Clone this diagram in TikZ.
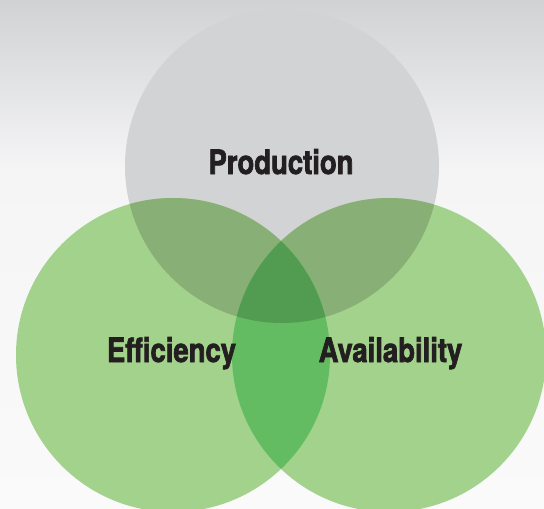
\documentclass[tikz,border=0pt]{standalone}
\usepackage{fontspec}
\newfontfamily\lbl{TeX Gyre Heros}[FakeStretch=0.82,FakeBold=2]
\definecolor{bgtop}{HTML}{D1D2D4}
\definecolor{bgmid}{HTML}{F5F5F6}
\definecolor{bgbot}{HTML}{FAFAFA}
\definecolor{greyc}{HTML}{D1D3D4}
\definecolor{greenc}{HTML}{A2D28B}
\definecolor{greygreen}{HTML}{87AF76}
\definecolor{greengreen}{HTML}{63BC62}
\definecolor{triple}{HTML}{519C50}
\definecolor{txt}{HTML}{231F20}
\tikzset{
  lab/.style={font=\lbl\bfseries\fontsize{33.5}{36}\selectfont, text=txt, anchor=base, inner sep=0pt}
}
\begin{document}
\begin{tikzpicture}[x=1pt,y=-1pt]
\useasboundingbox (0,0) rectangle (544,509);
\shade[top color=bgtop, bottom color=bgmid] (0,0) rectangle (544,170);
\shade[top color=bgmid, bottom color=bgbot] (0,170) rectangle (544,509);
\coordinate (T) at (282,166);
\coordinate (L) at (173,355);
\coordinate (R) at (389,355);
\fill[greyc] (T) circle[radius=157pt];
\fill[greenc] (L) circle[radius=157pt];
\fill[greenc] (R) circle[radius=157pt];
\begin{scope}
  \clip (T) circle[radius=157pt];
  \fill[greygreen] (L) circle[radius=157pt];
  \fill[greygreen] (R) circle[radius=157pt];
\end{scope}
\begin{scope}
  \clip (L) circle[radius=157pt];
  \fill[greengreen] (R) circle[radius=157pt];
  \clip (R) circle[radius=157pt];
  \fill[triple] (T) circle[radius=157pt];
\end{scope}
\node[lab] (prod) at (281,174) {Production};
\node[lab] (eff) at (171.5,362) {Efficiency};
\node[lab] (avail) at (390.5,362) {Availability};
\end{tikzpicture}
\end{document}
